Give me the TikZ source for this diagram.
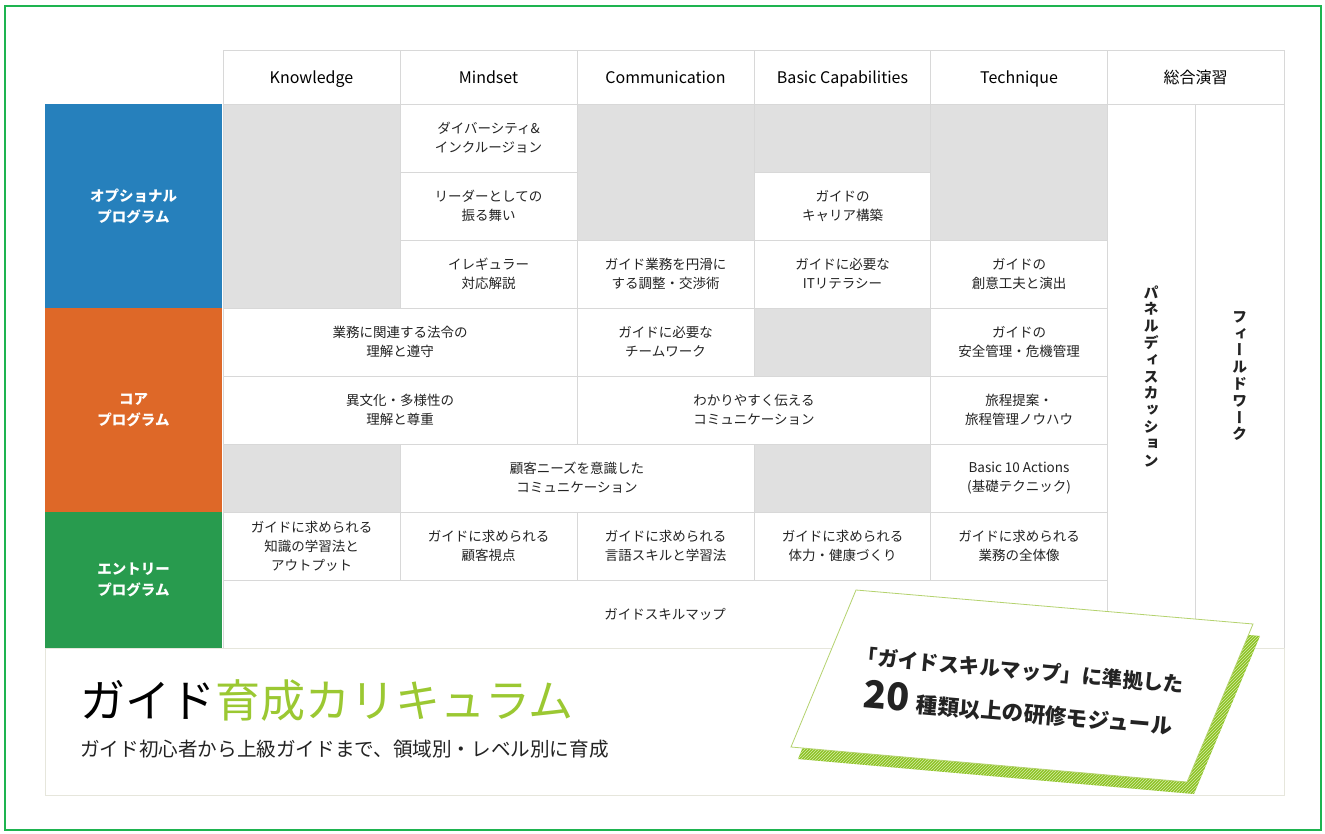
\documentclass[tikz,border=0pt]{standalone}
\usepackage{fontspec}
\setmainfont{Noto Sans CJK JP}
\newfontfamily\vertjp[RawFeature=+vert]{Noto Sans CJK JP}
\usetikzlibrary{patterns}
\definecolor{framegreen}{RGB}{30,180,80}
\definecolor{optblue}{RGB}{38,128,188}
\definecolor{coreorange}{RGB}{222,104,40}
\definecolor{entrygreen}{RGB}{40,155,78}
\definecolor{blankgray}{RGB}{224,224,224}
\definecolor{gridgray}{RGB}{216,216,216}
\definecolor{boxline}{RGB}{230,230,220}
\definecolor{titlegreen}{RGB}{155,200,50}
\definecolor{cardgreen}{RGB}{140,195,35}
\definecolor{cardstripe}{RGB}{215,235,170}
\definecolor{cardedge}{RGB}{180,210,110}
\definecolor{textdark}{RGB}{35,35,35}
\newcommand{\cellsize}{\fontsize{13.5}{19}\selectfont}
\newcommand{\headsize}{\fontsize{16}{19}\selectfont}
\newcommand{\progsize}{\fontsize{14.5}{21}\selectfont\bfseries}
\newcommand{\vertsize}{\vertjp\fontsize{15}{16.8}\selectfont\bfseries}
\tikzstyle{cell} = [rectangle, minimum width = 177pt, minimum height = 68pt, inner sep = 0pt, align = center, draw = gridgray, line width = 0.8pt, fill = white, text = textdark, font = \cellsize]
\tikzstyle{blank} = [cell, fill = blankgray]
\tikzstyle{head} = [cell, minimum height = 54pt, text = black, text height = 16pt, text depth = 2pt, font = \headsize]
\tikzstyle{prog} = [rectangle, minimum width = 177pt, inner sep = 0pt, align = center, text = white, font = \progsize]
\tikzstyle{vcol} = [cell, minimum height = 544pt, font = \vertsize]
\tikzstyle{cardtext} = [inner sep = 0pt, align = left, text = textdark, font = \fontsize{20.5}{43}\selectfont\bfseries]

\begin{document}
\begin{tikzpicture}[x = 1pt, y = -1pt]
    \useasboundingbox (0,0) rectangle (1325,834);
    \fill[white] (0,0) rectangle (1325,834);

    % header
    \node(hk)[head] at (311.5,77){Knowledge};
    \node(hm)[head] at (488.5,77){Mindset};
    \node(hc)[head] at (665.5,77){Communication};
    \node(hb)[head] at (842.5,77){Basic Capabilities};
    \node(ht)[head] at (1019,77){Technique};
    \node(hs)[head] at (1195.5,77){総合演習};

    % program labels
    \node(popt)[prog, minimum height = 204pt, fill = optblue] at (133.5,206){オプショナル\\プログラム};
    \node(pcore)[prog, minimum height = 204pt, fill = coreorange] at (133.5,410){コア\\プログラム};
    \node(pentry)[prog, minimum height = 136pt, fill = entrygreen] at (133.5,580){エントリー\\プログラム};

    % optional program
    \node(ok)[blank, minimum height = 204pt] at (311.5,206){};
    \node(om1)[cell] at (488.5,138){ダイバーシティ\&\\インクルージョン};
    \node(om2)[cell] at (488.5,206){リーダーとしての\\振る舞い};
    \node(om3)[cell] at (488.5,274){イレギュラー\\対応解説};
    \node(oc)[blank, minimum height = 136pt] at (665.5,172){};
    \node(oc3)[cell] at (665.5,274){ガイド業務を円滑に\\する調整・交渉術};
    \node(ob1)[blank] at (842.5,138){};
    \node(ob2)[cell] at (842.5,206){ガイドの\\キャリア構築};
    \node(ob3)[cell] at (842.5,274){ガイドに必要な\\ITリテラシー};
    \node(ot)[blank, minimum height = 136pt] at (1019,172){};
    \node(ot3)[cell] at (1019,274){ガイドの\\創意工夫と演出};

    % core program
    \node(ckm4)[cell, minimum width = 354pt] at (400,342){業務に関連する法令の\\理解と遵守};
    \node(cc4)[cell] at (665.5,342){ガイドに必要な\\チームワーク};
    \node(cb4)[blank] at (842.5,342){};
    \node(ct4)[cell] at (1019,342){ガイドの\\安全管理・危機管理};
    \node(ckm5)[cell, minimum width = 354pt] at (400,410){異文化・多様性の\\理解と尊重};
    \node(ccb5)[cell, minimum width = 354pt] at (754,410){わかりやすく伝える\\コミュニケーション};
    \node(ct5)[cell] at (1019,410){旅程提案・\\旅程管理ノウハウ};
    \node(ck6)[blank] at (311.5,478){};
    \node(cmc6)[cell, minimum width = 354pt] at (577,478){顧客ニーズを意識した\\コミュニケーション};
    \node(cb6)[blank] at (842.5,478){};
    \node(ct6)[cell] at (1019,478){Basic 10 Actions\\(基礎テクニック)};

    % entry program
    \node(ek7)[cell] at (311.5,546){ガイドに求められる\\知識の学習法と\\アウトプット};
    \node(em7)[cell] at (488.5,546){ガイドに求められる\\顧客視点};
    \node(ec7)[cell] at (665.5,546){ガイドに求められる\\言語スキルと学習法};
    \node(eb7)[cell] at (842.5,546){ガイドに求められる\\体力・健康づくり};
    \node(et7)[cell] at (1019,546){ガイドに求められる\\業務の全体像};
    \node(emap)[cell, minimum width = 884pt] at (665,614){ガイドスキルマップ};

    % sogo enshu
    \node(spanel)[vcol, minimum width = 88pt] at (1151,376){パ\\ネ\\ル\\デ\\ィ\\ス\\カ\\ッ\\シ\\ョ\\ン};
    \node(sfield)[vcol, minimum width = 89pt] at (1239.5,376){フ\\ィ\\ー\\ル\\ド\\ワ\\ー\\ク};

    % bottom box and title
    \draw[boxline, line width = 1pt](45,648) rectangle (1284,795);
    \node(title)[anchor = west, inner sep = 0pt, font = \fontsize{45}{50}\selectfont] at (80,701){ガイド\textcolor{titlegreen}{育成カリキュラム}};
    \node(subtitle)[anchor = west, inner sep = 0pt, text = textdark, font = \fontsize{19.6}{24}\selectfont] at (80,749){ガイド初心者から上級ガイドまで、領域別・レベル別に育成};

    % card
    \path[fill = cardgreen, postaction = {pattern = north east lines, pattern color = cardstripe}](863,602) -- (1260,636) -- (1194,794) -- (798,759) -- cycle;
    \draw[fill = white, draw = cardedge, line width = 0.8pt](856,590) -- (1253,624) -- (1187,782) -- (791,747) -- cycle;
    \node(card)[cardtext, anchor = north west, rotate = -5] at (858,646){「ガイドスキルマップ」に準拠した\\\hspace*{10pt}{\fontsize{38}{43}\selectfont 20}\hspace{7pt}{\fontsize{21.5}{43}\selectfont 種類以上の研修モジュール}};

    % frame
    \draw[framegreen, line width = 2pt](5,6) rectangle (1321,830);
\end{tikzpicture}
\end{document}
